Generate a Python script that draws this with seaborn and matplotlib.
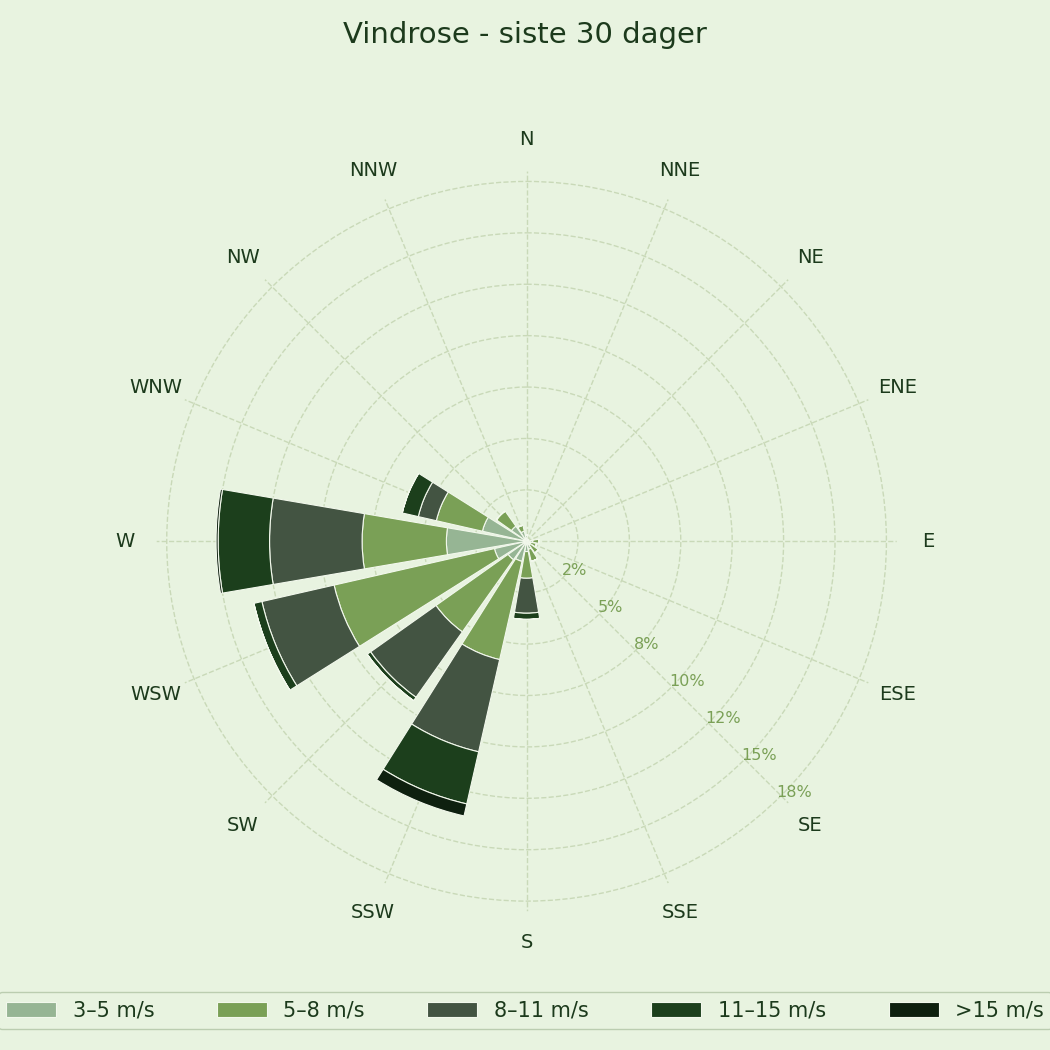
import numpy as np
import matplotlib
matplotlib.use("Agg")
import matplotlib.pyplot as plt
import seaborn as sns

directions = ["N", "NNE", "NE", "ENE", "E", "ESE", "SE", "SSE",
              "S", "SSW", "SW", "WSW", "W", "WNW", "NW", "NNW"]
speed_bins = ["3–5 m/s", "5–8 m/s", "8–11 m/s", "11–15 m/s", ">15 m/s"]

# percent per direction, per speed bin
s3_5 = [0.3, 0.1, 0.1, 0.1, 0.3, 0.2, 0.2, 0.4, 0.5, 1.0, 1.1, 1.6, 3.9, 2.2, 0.9, 0.5]
s5_8 = [0.0, 0.0, 0.0, 0.0, 0.3, 0.3, 0.5, 0.6, 1.3, 4.9, 4.3, 8.0, 4.1, 2.3, 0.9, 0.3]
s8_11 = [0.0, 0.0, 0.0, 0.0, 0.0, 0.0, 0.0, 0.0, 1.7, 4.6, 3.9, 3.6, 4.5, 0.9, 0.0, 0.0]
s11_15 = [0.0, 0.0, 0.0, 0.0, 0.0, 0.0, 0.0, 0.0, 0.3, 2.6, 0.2, 0.4, 2.5, 0.8, 0.0, 0.0]
s15p = [0.0, 0.0, 0.0, 0.0, 0.0, 0.0, 0.0, 0.0, 0.0, 0.6, 0.0, 0.0, 0.1, 0.0, 0.0, 0.0]

colors = ["#96b594", "#7aa056", "#435442", "#1c3f1c", "#0e200f"]
bg = "#e8f3e0"
dark = "#1c3a1c"

sns.set_style("white")
plt.rcParams["font.family"] = ["DejaVu Sans"]

fig = plt.figure(figsize=(10.5, 10.5), dpi=100, facecolor=bg)
ax = fig.add_axes([0.149, 0.132, 0.705, 0.705], projection="polar", facecolor=bg)
ax.set_theta_zero_location("N")
ax.set_theta_direction(-1)

theta = np.deg2rad(np.arange(16) * 22.5)
width = np.deg2rad(22.5) * 0.86
bottom = np.zeros(16)
for vals, lab, c in zip([s3_5, s5_8, s8_11, s11_15, s15p], speed_bins, colors):
    v = np.array(vals)
    ax.bar(theta, v, width=width, bottom=bottom, color=c, edgecolor="#f2f8ec",
           linewidth=0.8, label=lab)
    bottom += v

ax.set_ylim(0, 18)
ax.set_xticks(theta)
ax.set_xticklabels(directions, fontsize=14, color=dark)
ax.tick_params(axis="x", pad=12)
rt = [2.5, 5, 7.5, 10, 12.5, 15, 17.5]
ax.set_yticks(rt)
ax.set_yticklabels([f"{t:.0f}%" for t in rt], fontsize=11.5, color="#7aa056")
ax.set_rlabel_position(136)
ax.grid(True, color="#c9d9b8", linestyle="--", linewidth=1.0)
ax.spines["polar"].set_visible(False)

fig.suptitle("Vindrose - siste 30 dager", fontsize=21, color=dark, y=0.98)
leg = fig.legend(loc="lower center", ncol=5, fontsize=15, frameon=True,
                 bbox_to_anchor=(0.5, 0.01), handlelength=2.4, columnspacing=3.0,
                 facecolor=bg, edgecolor="#b0c4a4", fancybox=True)
for t in leg.get_texts():
    t.set_color(dark)

fig.savefig("out.png", dpi=100, facecolor=bg)
